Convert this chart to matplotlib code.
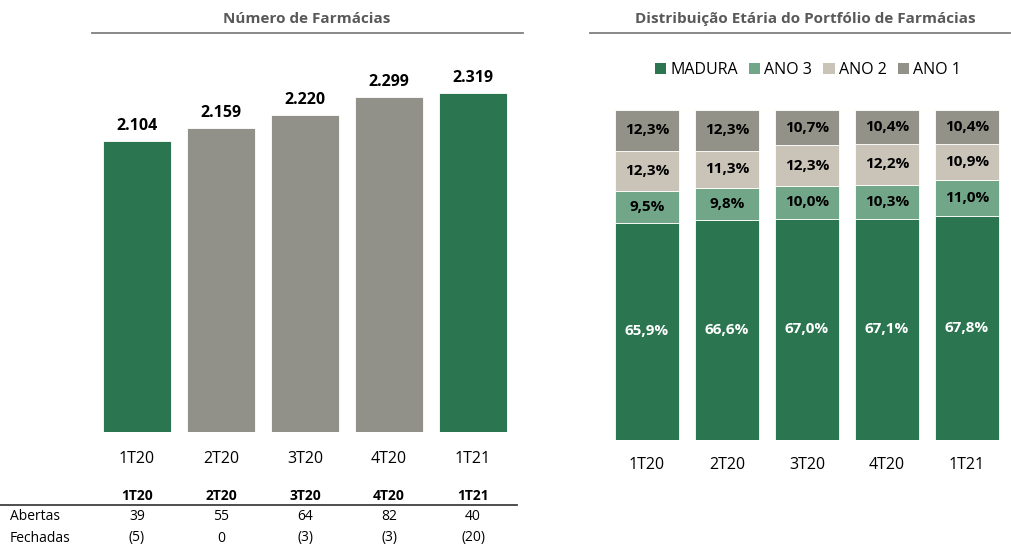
import numpy as np
import matplotlib
matplotlib.use("Agg")
import matplotlib.pyplot as plt
from matplotlib.lines import Line2D
from matplotlib.patches import Patch

plt.rcParams['font.family'] = ['Open Sans', 'DejaVu Sans']

# data
quarters = ['1T20', '2T20', '3T20', '4T20', '1T21']
n_farmacias = [2104, 2159, 2220, 2299, 2319]
abertas = ['39', '55', '64', '82', '40']
fechadas = ['(5)', '0', '(3)', '(3)', '(20)']

madura = [65.9, 66.6, 67.0, 67.1, 67.8]
ano3 = [9.5, 9.8, 10.0, 10.3, 11.0]
ano2 = [12.3, 11.3, 12.3, 12.2, 10.9]
ano1 = [12.3, 12.3, 10.7, 10.4, 10.4]

GREEN = '#2b7650'
GRAY = '#91918a'
C_ANO3 = '#71a688'
C_ANO2 = '#c9c3b8'
C_ANO1 = '#929288'
TITLE_C = '#595959'

W, H = 1011, 547
fig = plt.figure(figsize=(W / 100, H / 100), dpi=100)

def fx(px):
    return px / W

def fy(py):
    return 1 - py / H

x = np.arange(len(quarters))

# ---- left chart: number of pharmacies
ax1 = fig.add_axes([fx(95), fy(432), fx(420), (432 - 41) / H])
colors = [GREEN, GRAY, GRAY, GRAY, GREEN]
bars = ax1.bar(x, n_farmacias, width=0.81, color=colors, edgecolor='white', linewidth=0.6)
ax1.set_xlim(-0.5, 4.5)
ax1.set_ylim(800, 2550)
for b, v in zip(bars, n_farmacias):
    ax1.annotate(f'{v / 1000:.3f}', (b.get_x() + b.get_width() / 2, v),
                 xytext=(0, 5), textcoords='offset points', ha='center', va='bottom',
                 fontsize=11.5, fontweight='bold', color='black')
for s in ax1.spines.values():
    s.set_visible(False)
ax1.set_yticks([])
ax1.set_xticks(x)
ax1.set_xticklabels(quarters, fontsize=11.5)
ax1.tick_params(axis='x', length=0, pad=14)

fig.text(fx(307), fy(19), 'Número de Farmácias', ha='center', va='center',
         fontsize=11, fontweight='bold', color=TITLE_C)
fig.add_artist(Line2D([fx(92), fx(523)], [fy(33), fy(33)], color='#7f7f7f', lw=1.3))

# table under the left chart
for i, q in enumerate(quarters):
    xc = fx(137 + 84 * i)
    fig.text(xc, fy(496), q, ha='center', va='center', fontsize=10, fontweight='bold')
    fig.text(xc, fy(517), abertas[i], ha='center', va='center', fontsize=10)
    fig.text(xc, fy(538), fechadas[i], ha='center', va='center', fontsize=10)
fig.text(fx(10), fy(517), 'Abertas', ha='left', va='center', fontsize=10)
fig.text(fx(10), fy(538), 'Fechadas', ha='left', va='center', fontsize=10)
fig.add_artist(Line2D([0, fx(517)], [fy(505), fy(505)], color='#404040', lw=1.3))

# ---- right chart: age distribution
ax2 = fig.add_axes([fx(607), fy(440), fx(400), (440 - 110) / H])
series = [('MADURA', madura, GREEN, 'white'),
          ('ANO 3', ano3, C_ANO3, 'black'),
          ('ANO 2', ano2, C_ANO2, 'black'),
          ('ANO 1', ano1, C_ANO1, 'black')]
bottom = np.zeros(len(quarters))
for name, vals, c, tc in series:
    vals = np.array(vals)
    ax2.bar(x, vals, width=0.8, bottom=bottom, color=c, edgecolor='white', linewidth=0.6, label=name)
    for xi, b0, v in zip(x, bottom, vals):
        ax2.text(xi, b0 + v / 2, f'{v:.1f}%'.replace('.', ','), ha='center', va='center',
                 fontsize=11, fontweight='bold', color=tc)
    bottom += vals
ax2.set_xlim(-0.5, 4.5)
ax2.set_ylim(0, 100)
for s in ax2.spines.values():
    s.set_visible(False)
ax2.set_yticks([])
ax2.set_xticks(x)
ax2.set_xticklabels(quarters, fontsize=11.5)
ax2.tick_params(axis='x', length=0, pad=12)

handles = [Patch(facecolor=c, edgecolor='none') for _, _, c, _ in series]
fig.legend(handles, [s[0] for s in series], loc='center', bbox_to_anchor=(fx(808), fy(70)),
           ncol=4, frameon=False, fontsize=11.5, handlelength=0.7, handleheight=0.7,
           handletextpad=0.25, columnspacing=0.7)

fig.text(fx(805), fy(19), 'Distribuição Etária do Portfólio de Farmácias', ha='center', va='center',
         fontsize=11, fontweight='bold', color=TITLE_C)
fig.add_artist(Line2D([fx(590), fx(1010)], [fy(33), fy(33)], color='#7f7f7f', lw=1.3))

fig.savefig('out.png', dpi=100)
